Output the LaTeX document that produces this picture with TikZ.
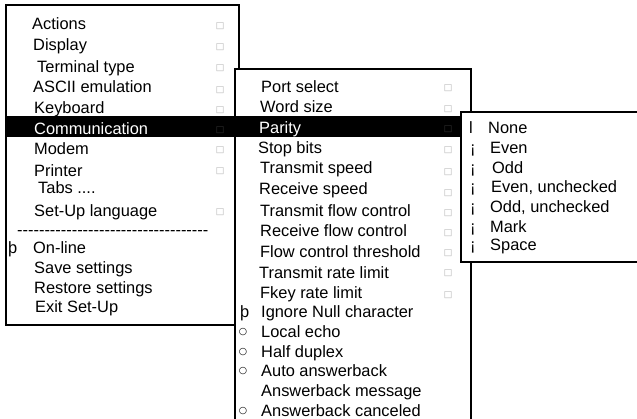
\documentclass[tikz,border=0pt]{standalone}
\usepackage{fontspec}
\setmainfont{Liberation Sans}
\newfontfamily\dejavu{DejaVu Sans}
\newfontfamily\nolig[Ligatures=TeXOff]{Liberation Sans}
\tikzset{
 menubox/.style={draw=black, fill=white, line width=2pt},
 itm/.style={anchor=base west, inner sep=0pt, font=\fontsize{16.4}{20}\selectfont},
 sq/.style={anchor=center, inner sep=0pt, text=gray!60, font=\dejavu\fontsize{9}{9}\selectfont},
 sqdark/.style={sq, text=gray!40!black},
 circ/.style={anchor=center, inner sep=0pt, font=\dejavu\fontsize{9.5}{9.5}\selectfont},
 hbar/.style={fill=black},
}
\begin{document}
\begin{tikzpicture}[x=1pt,y=-1pt]
\clip (0,0) rectangle (637,418);
\fill[white] (0,0) rectangle (637,418);
% ---------- main menu ----------
\draw[menubox] (6,5) rectangle (238.5,324.5);
\foreach \n/\x/\y/\t in {1/32/29/Actions, 2/33/50/Display, 3/37/72/Terminal type,
  4/33/92/ASCII emulation, 5/34/113/Keyboard, 7/34/154/Modem, 8/34/176/Printer,
  10/34/216/Set-Up language, 12/33/253/On-line,
  13/34/273/Save settings, 14/34/293/Restore settings, 15/35/312/Exit Set-Up}
  \node[itm] (a\n) at (\x,\y) {\t};
\node[itm] (a9) at (38,193) {Tabs ....};
\node[itm, font=\nolig\fontsize{16.4}{20}\selectfont] (a11) at (17,235.6) {-----------------------------------};
\node[itm] (th1) at (8,253) {þ};
\foreach \n/\y in {1/26,2/47,3/68,4/90,5/110,7/150,8/171,10/212}
  \node[sq] (as\n) at (220,\y) {□};
% ---------- communication submenu ----------
\draw[menubox] (234.5,68.5) rectangle (470.5,430);
\fill[hbar] (7,116) rectangle (460.5,136.5);
\node[itm, text=white] (a6) at (34,134) {Communication};
\node[sqdark] (as6) at (220,130) {□};
\foreach \n/\x/\y/\t in {1/261/92/Port select, 2/260/112/Word size, 4/258/153/Stop bits,
  5/260/173/Transmit speed, 6/259/194/Receive speed, 7/260/216/Transmit flow control,
  8/260/236/Receive flow control, 9/260/257/Flow control threshold,
  10/259/278/Transmit rate limit, 11/260/298/Fkey rate limit,
  12/261/317/Ignore Null character, 13/261/337/Local echo, 14/261/357/Half duplex,
  15/261/376/Auto answerback, 16/261/396/Answerback message, 17/261/416/Answerback canceled}
  \node[itm] (b\n) at (\x,\y) {\t};
\node[itm, text=white] (b3) at (259,133) {Parity};
\node[itm] (th2) at (240,317) {þ};
\foreach \n/\y in {13/332.5,14/352.5,15/371.5,17/411.5}
  \node[circ] (bc\n) at (243,\y) {○};
\foreach \n/\y in {1/88,2/109,4/150,5/172,6/193,7/213,8/233,9/253,10/273,11/295}
  \node[sq] (bs\n) at (448,\y) {□};
\node[sqdark] (bs3) at (448,129) {□};
% ---------- parity submenu ----------
\draw[menubox] (460.5,112) rectangle (645,262);
\node[itm] (cl) at (469,133) {l};
\node[itm] (c1) at (488,133) {None};
\foreach \n/\x/\y/\t in {2/490/153/Even, 3/492/173/Odd, 4/491/192/{Even, unchecked},
  5/490/212/{Odd, unchecked}, 6/490/232/Mark, 7/490/250/Space}
  {\node[itm] (c\n) at (\x,\y) {\t};
   \node[itm] (ci\n) at (470,\y) {¡};}
\end{tikzpicture}
\end{document}
